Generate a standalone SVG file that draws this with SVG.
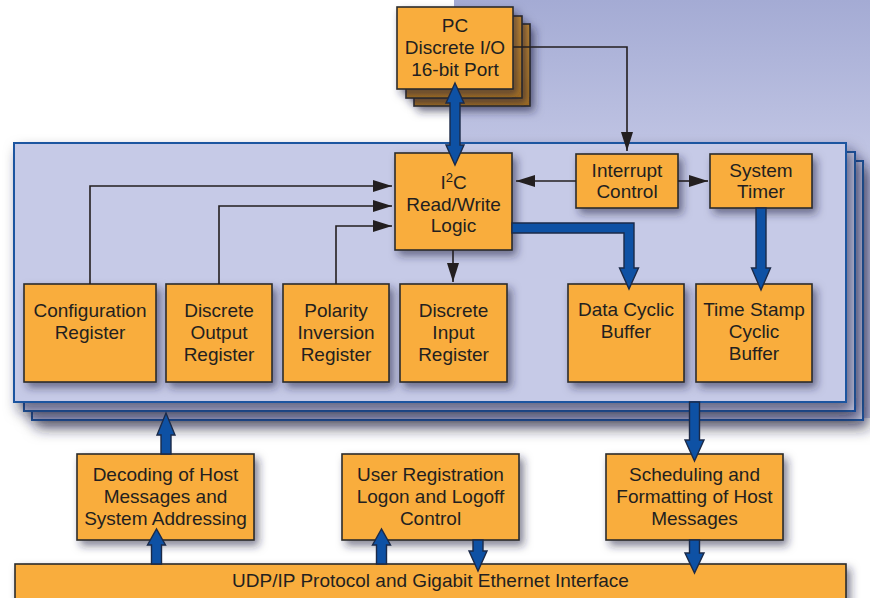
<svg xmlns="http://www.w3.org/2000/svg" width="870" height="598" viewBox="0 0 870 598">
<defs>
<linearGradient id="bg" x1="0" y1="0" x2="0" y2="1">
<stop offset="0" stop-color="#a4abd4"/>
<stop offset="0.4" stop-color="#c3c7e5"/>
<stop offset="1" stop-color="#c9cce8"/>
</linearGradient>
<linearGradient id="br" x1="0" y1="0" x2="0" y2="1">
<stop offset="0" stop-color="#c98c30"/>
<stop offset="1" stop-color="#a8711f"/>
</linearGradient>
<filter id="sh" x="-20%" y="-20%" width="150%" height="160%">
<feDropShadow dx="4" dy="5" stdDeviation="4" flood-color="#1e1e3c" flood-opacity="0.55"/>
</filter>
<filter id="shp" x="-10%" y="-10%" width="120%" height="130%">
<feDropShadow dx="5" dy="8" stdDeviation="7" flood-color="#1e1e3c" flood-opacity="0.6"/>
</filter>
<marker id="ah" markerUnits="userSpaceOnUse" markerWidth="19" markerHeight="12" refX="19" refY="6" orient="auto">
<path d="M0,0 L19,6 L0,12 Z" fill="#231f20"/>
</marker>
<style>
.box{fill:#f9ad3d;stroke:#2b2b2b;stroke-width:1.6;filter:url(#sh)}
.back{fill:url(#br);stroke:#2b2b2b;stroke-width:1.6;filter:url(#sh)}
.panel{fill:#c6cae7;stroke:#1d55a0;stroke-width:2;filter:url(#shp)}
.t{font-family:"Liberation Sans",Arial,sans-serif;font-size:19px;fill:#231f20;text-anchor:middle}
.ln{fill:none;stroke:#231f20;stroke-width:1.6;marker-end:url(#ah)}
.th{fill:#0e51a4;stroke:#1b2a48;stroke-width:1.4;stroke-linejoin:miter}
</style>
</defs>
<rect x="454" y="0" width="416" height="418" fill="url(#bg)"/>

<g id="panel">
<rect class="panel" x="32" y="161" width="831" height="259"/>
<rect class="panel" x="24" y="152" width="831" height="259"/>
<rect class="panel" x="14" y="143" width="832" height="259"/>
</g>

<g id="pc">
<rect class="back" x="414" y="24" width="116" height="82"/>
<rect class="back" x="406" y="16" width="116" height="82"/>
<rect class="box" x="397" y="7" width="116" height="82"/>
<text class="t" x="455" y="32">PC</text>
<text class="t" x="455" y="54">Discrete I/O</text>
<text class="t" x="455" y="76">16-bit Port</text>
</g>

<g id="i2c">
<rect class="box" x="395" y="153" width="117" height="97"/>
<text class="t" x="453.5" y="189">I<tspan font-size="13" dy="-7">2</tspan><tspan dy="7">C</tspan></text>
<text class="t" x="453.5" y="211">Read/Write</text>
<text class="t" x="453.5" y="232">Logic</text>
</g>

<g id="interrupt">
<rect class="box" x="576" y="154" width="102" height="54"/>
<text class="t" x="627" y="177">Interrupt</text>
<text class="t" x="627" y="198">Control</text>
</g>

<g id="timer">
<rect class="box" x="710" y="154" width="102" height="54"/>
<text class="t" x="761" y="177">System</text>
<text class="t" x="761" y="198">Timer</text>
</g>

<g id="config">
<rect class="box" x="24" y="284" width="132" height="98"/>
<text class="t" x="90" y="317">Configuration</text>
<text class="t" x="90" y="339">Register</text>
</g>

<g id="discout">
<rect class="box" x="166" y="284" width="106" height="98"/>
<text class="t" x="219" y="317">Discrete</text>
<text class="t" x="219" y="339">Output</text>
<text class="t" x="219" y="361">Register</text>
</g>

<g id="polarity">
<rect class="box" x="283" y="284" width="106" height="98"/>
<text class="t" x="336" y="317">Polarity</text>
<text class="t" x="336" y="339">Inversion</text>
<text class="t" x="336" y="361">Register</text>
</g>

<g id="discin">
<rect class="box" x="400" y="284" width="107" height="98"/>
<text class="t" x="453.5" y="317">Discrete</text>
<text class="t" x="453.5" y="339">Input</text>
<text class="t" x="453.5" y="361">Register</text>
</g>

<g id="datacyc">
<rect class="box" x="568" y="284" width="116" height="98"/>
<text class="t" x="626" y="316">Data Cyclic</text>
<text class="t" x="626" y="338">Buffer</text>
</g>

<g id="timestamp">
<rect class="box" x="696" y="284" width="116" height="98"/>
<text class="t" x="754" y="316">Time Stamp</text>
<text class="t" x="754" y="338">Cyclic</text>
<text class="t" x="754" y="360">Buffer</text>
</g>

<g id="decoding">
<rect class="box" x="77" y="454" width="177" height="86"/>
<text class="t" x="165.5" y="481">Decoding of Host</text>
<text class="t" x="165.5" y="503">Messages and</text>
<text class="t" x="165.5" y="525">System Addressing</text>
</g>

<g id="userreg">
<rect class="box" x="342" y="454" width="177" height="86"/>
<text class="t" x="430.5" y="481">User Registration</text>
<text class="t" x="430.5" y="503">Logon and Logoff</text>
<text class="t" x="430.5" y="525">Control</text>
</g>

<g id="scheduling">
<rect class="box" x="606" y="454" width="177" height="86"/>
<text class="t" x="694.5" y="481">Scheduling and</text>
<text class="t" x="694.5" y="503">Formatting of Host</text>
<text class="t" x="694.5" y="525">Messages</text>
</g>

<g id="udp">
<rect class="box" x="15" y="564" width="831" height="50"/>
<text class="t" x="430.5" y="587">UDP/IP Protocol and Gigabit Ethernet Interface</text>
</g>

<g id="connectors">
<polyline class="ln" points="513,47 627,47 627,151"/>
<line class="ln" x1="576" y1="181" x2="516" y2="181"/>
<line class="ln" x1="678" y1="181" x2="708" y2="181"/>
<polyline class="ln" points="90,284 90,186 392,186"/>
<polyline class="ln" points="219,284 219,206 392,206"/>
<polyline class="ln" points="336,284 336,226 392,226"/>
<line class="ln" x1="453" y1="250" x2="453" y2="282"/>
<path class="th" d="M455,83 L464,103 L460,103 L460,145 L464,145 L455,165 L446,145 L450,145 L450,103 L446,103 Z"/>
<path class="th" d="M512,223 L634,223 L634,268 L638.5,268 L629,289 L619.5,268 L624,268 L624,233 L512,233 Z"/>
<path class="th" d="M756,208 L766,208 L766,268 L770.5,268 L761,290 L751.5,268 L756,268 Z"/>
<path class="th" d="M689.5,402 L699.5,402 L699.5,440 L704,440 L694.5,461 L685,440 L689.5,440 Z"/>
<path class="th" d="M161,454 L161,435 L157,435 L166,413 L175,435 L171,435 L171,454 Z"/>
<path class="th" d="M151.5,564 L151.5,545 L147.5,545 L156.5,529 L165.5,545 L161.5,545 L161.5,564 Z"/>
<path class="th" d="M376.5,564 L376.5,545 L372.5,545 L381.5,529 L390.5,545 L386.5,545 L386.5,564 Z"/>
<path class="th" d="M473,540 L483,540 L483,551 L487,551 L478,571 L469,551 L473,551 Z"/>
<path class="th" d="M689.5,540 L699.5,540 L699.5,553 L704,553 L694.5,573 L685,553 L689.5,553 Z"/>
</g>
</svg>
